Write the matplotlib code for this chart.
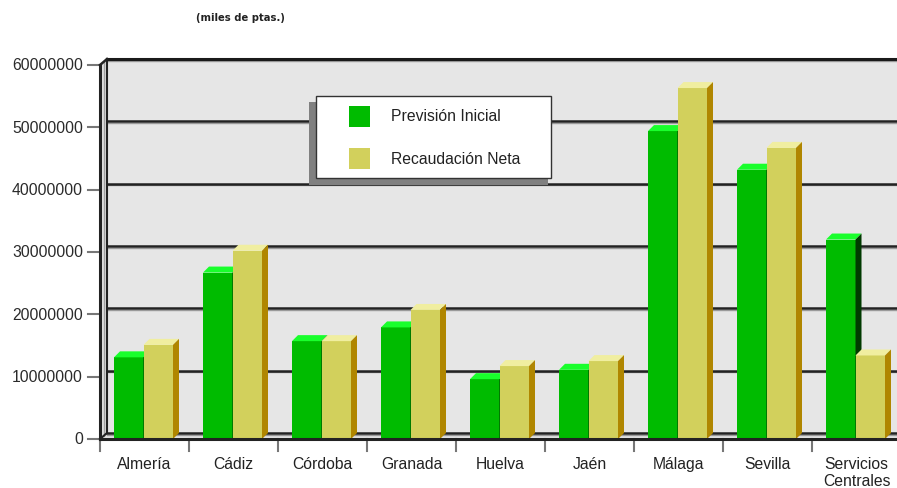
import numpy as np
import matplotlib.pyplot as plt
from matplotlib.patches import Polygon, Rectangle

# values in miles de ptas.
provincias = ["Almería", "Cádiz", "Córdoba", "Granada", "Huelva", "Jaén",
              "Málaga", "Sevilla", "Servicios\nCentrales"]
prevision = [13100000, 26700000, 15700000, 17900000, 9600000, 11100000,
             49400000, 43200000, 32000000]
recaudacion = [15100000, 30200000, 15700000, 20700000, 11700000, 12500000,
               56300000, 46700000, 13400000]
yticks = [0, 10000000, 20000000, 30000000, 40000000, 50000000, 60000000]

W, H = 897, 489
fig = plt.figure(figsize=(W / 100, H / 100), dpi=100)
# front plane: x 100..901 px, y 440..66 px (top origin)
ax = fig.add_axes([100 / W, 1 - 440 / H, 801 / W, 374 / H])
n = len(provincias)
ymax = 60000000
ax.set_xlim(0, n)
ax.set_ylim(0, ymax)
ax.axis("off")

px = n / 801.0          # data units per pixel, x
py = ymax / 374.0       # data units per pixel, y
dx, dy = 7 * px, 6 * py     # wall depth
bdx, bdy = 6 * px, 6 * py   # bar depth

kw = dict(clip_on=False)
# back wall, side wall, floor
ax.add_patch(Rectangle((dx, dy), n + 1, ymax, facecolor="#e6e6e6",
                       edgecolor="none", zorder=0, **kw))
ax.add_patch(Polygon([(0, 0), (dx, dy), (dx, ymax + dy), (0, ymax)],
                     facecolor="#e2e2e2", edgecolor="none", zorder=0, **kw))
ax.add_patch(Polygon([(0, 0), (n + 1, 0), (n + 1, dy), (dx, dy)],
                     facecolor="#e6e6e6", edgecolor="none", zorder=0, **kw))

for v in yticks:
    ax.plot([dx, n + 1], [v + dy - 1.6 * py] * 2, color="#9a9a9a", lw=1,
            zorder=1, **kw)
    ax.plot([dx, n + 1], [v + dy] * 2, color="#222222", lw=1.8, zorder=1, **kw)
    ax.plot([-12 * px, 0], [v, v], color="#777777", lw=1.5, zorder=1, **kw)
    ax.text(-17 * px, v, str(v), ha="right", va="center", fontsize=11.3,
            family=["Liberation Sans", "DejaVu Sans"], color="#2a2a2a")

# wall edges
ax.plot([dx, dx], [dy, ymax + dy], color="#222222", lw=1.5, zorder=1, **kw)
ax.plot([3.5 * px, 3.5 * px], [0.5 * dy, ymax + 0.5 * dy], color="#a0a0a0",
        lw=1, zorder=1, **kw)
ax.plot([dx, n + 1], [ymax + dy] * 2, color="#1a1a1a", lw=2.2, zorder=1, **kw)
ax.plot([0, dx], [ymax, ymax + dy], color="#222222", lw=1.8, zorder=1, **kw)
ax.plot([0, dx], [0, dy], color="#222222", lw=1.5, zorder=1, **kw)
ax.plot([0, 0], [0, ymax], color="#222222", lw=2.2, zorder=5, **kw)
ax.plot([0, n + 1], [0, 0], color="#222222", lw=2.2, zorder=5, **kw)

for i in range(n + 1):
    ax.plot([i, i], [0, -12 * py], color="#777777", lw=1.5, zorder=1, **kw)


def bar3d(x0, w, v, front, top, side):
    x1 = x0 + w
    ax.add_patch(Rectangle((x0, 0), w, v, facecolor=front, edgecolor="none",
                           zorder=3, **kw))
    ax.add_patch(Polygon([(x0, v), (x1, v), (x1 + bdx, v + bdy),
                          (x0 + bdx, v + bdy)], facecolor=top,
                         edgecolor="none", zorder=3, **kw))
    ax.add_patch(Polygon([(x1, 0), (x1 + bdx, bdy), (x1 + bdx, v + bdy),
                          (x1, v)], facecolor=side, edgecolor="none",
                         zorder=3, **kw))


bw = 29.5 / 89
off = 14 / 89
for i in range(n):
    bar3d(i + off, bw, prevision[i], "#00bb00", "#19ff2c", "#003a00")
    bar3d(i + off + bw, bw, recaudacion[i], "#d2d05c", "#f0eea0", "#b08600")
    lines = provincias[i].split("\n")
    for k, t in enumerate(lines):
        ax.text(i + 0.5, -(25 + 17 * k) * py, t, ha="center", va="center",
                fontsize=11.3, family=["Liberation Sans", "DejaVu Sans"],
                color="#222222", **kw)


def fig_rect(x0, y0, x1, y1, **style):
    fig.add_artist(Rectangle((x0 / W, 1 - y1 / H), (x1 - x0) / W,
                             (y1 - y0) / H, transform=fig.transFigure, **style))


# legend with shadow
fig_rect(309, 103, 548, 186, facecolor="#808080", edgecolor="none")
fig_rect(316, 97, 551, 179, facecolor="white", edgecolor="#333333", lw=1)
fig_rect(349, 107, 370, 128, facecolor="#00bb00", edgecolor="none")
fig_rect(349, 149, 370, 170, facecolor="#d2d05c", edgecolor="none")
fig.text(391 / W, 1 - 117 / H, "Previsión Inicial", va="center",
         fontsize=11.3, family=["Liberation Sans", "DejaVu Sans"], color="#222222")
fig.text(391 / W, 1 - 159 / H, "Recaudación Neta", va="center",
         fontsize=11.3, family=["Liberation Sans", "DejaVu Sans"], color="#222222")

fig.text(240 / W, 1 - 18 / H, "(miles de ptas.)", ha="center", va="center",
         fontsize=8, fontweight="bold", fontstretch="condensed",
         family=["DejaVu Sans"], color="#222222")

fig.savefig("out.png", dpi=100)
